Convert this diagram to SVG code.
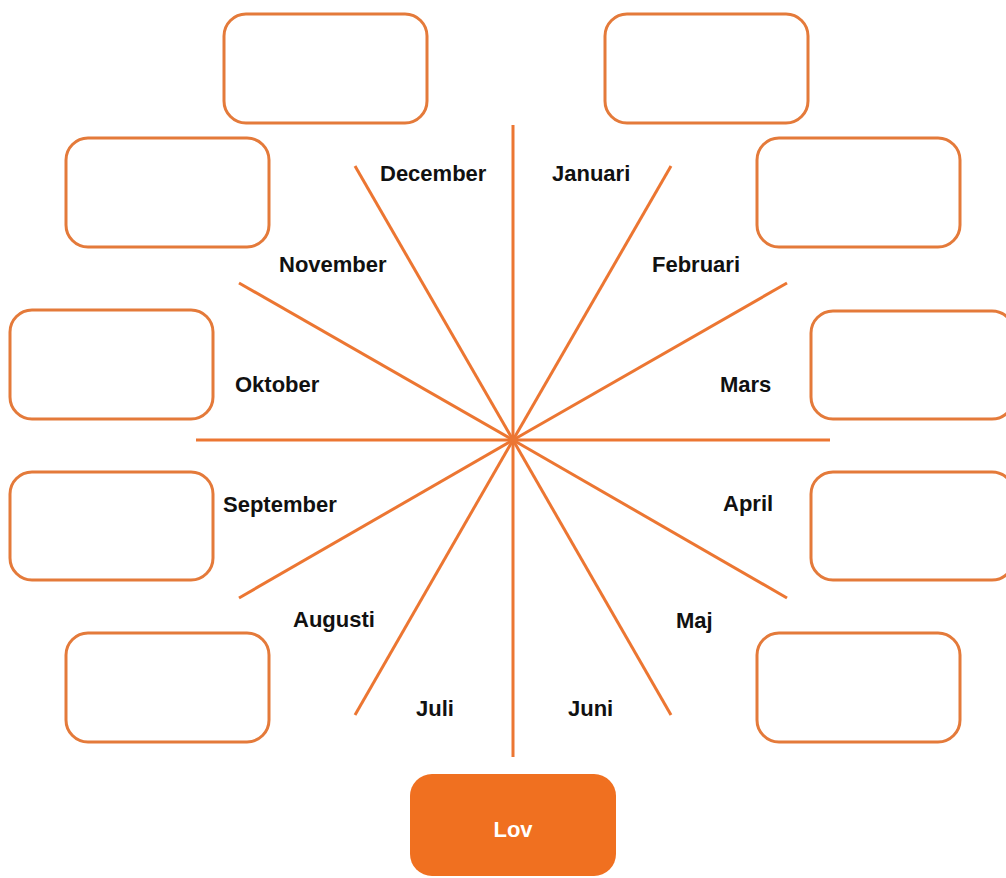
<svg xmlns="http://www.w3.org/2000/svg" width="1006" height="878" viewBox="0 0 1006 878">
<style>
.box{fill:#ffffff;stroke:#e47a3a;stroke-width:3}
.spoke{stroke:#ec7632;stroke-width:3;stroke-linecap:butt}
.lbl{font-family:"Liberation Sans",Arial,sans-serif;font-weight:bold;font-size:22px;fill:#111111}
.lov{font-family:"Liberation Sans",Arial,sans-serif;font-weight:bold;font-size:22px;fill:#ffffff}
</style>
<rect width="1006" height="878" fill="#ffffff"/>
<g id="connectors">
<line class="spoke" x1="513" y1="440" x2="513" y2="125"/>
<line class="spoke" x1="513" y1="440" x2="513" y2="757"/>
<line class="spoke" x1="513" y1="440" x2="196" y2="440"/>
<line class="spoke" x1="513" y1="440" x2="830" y2="440"/>
<line class="spoke" x1="513" y1="440" x2="671" y2="166"/>
<line class="spoke" x1="513" y1="440" x2="355" y2="166"/>
<line class="spoke" x1="513" y1="440" x2="787" y2="283"/>
<line class="spoke" x1="513" y1="440" x2="239" y2="283"/>
<line class="spoke" x1="513" y1="440" x2="787" y2="598"/>
<line class="spoke" x1="513" y1="440" x2="239" y2="598"/>
<line class="spoke" x1="513" y1="440" x2="671" y2="715"/>
<line class="spoke" x1="513" y1="440" x2="355" y2="715"/>
<circle cx="513" cy="440" r="4" fill="#ec7632"/>
</g>
<g id="box-top-left"><rect class="box" x="224" y="14" width="203" height="109" rx="22"/></g>
<g id="box-top-right"><rect class="box" x="605" y="14" width="203" height="109" rx="22"/></g>
<g id="box-row2-left"><rect class="box" x="66" y="138" width="203" height="109" rx="22"/></g>
<g id="box-row2-right"><rect class="box" x="757" y="138" width="203" height="109" rx="22"/></g>
<g id="box-row3-left"><rect class="box" x="10" y="310" width="203" height="109" rx="22"/></g>
<g id="box-row3-right"><rect class="box" x="811" y="311" width="203" height="108" rx="22"/></g>
<g id="box-row4-left"><rect class="box" x="10" y="472" width="203" height="108" rx="22"/></g>
<g id="box-row4-right"><rect class="box" x="811" y="472" width="203" height="108" rx="22"/></g>
<g id="box-row5-left"><rect class="box" x="66" y="633" width="203" height="109" rx="22"/></g>
<g id="box-row5-right"><rect class="box" x="757" y="633" width="203" height="109" rx="22"/></g>
<g id="lov"><rect x="410" y="774" width="206" height="102" rx="22" fill="#f07020"/><text class="lov" x="513" y="837" text-anchor="middle">Lov</text></g>
<g id="labels">
<text class="lbl" x="380" y="181">December</text>
<text class="lbl" x="552" y="181">Januari</text>
<text class="lbl" x="279" y="272">November</text>
<text class="lbl" x="652" y="272">Februari</text>
<text class="lbl" x="235" y="392">Oktober</text>
<text class="lbl" x="720" y="392">Mars</text>
<text class="lbl" x="223" y="512">September</text>
<text class="lbl" x="723" y="511">April</text>
<text class="lbl" x="293" y="627">Augusti</text>
<text class="lbl" x="676" y="628">Maj</text>
<text class="lbl" x="416" y="716">Juli</text>
<text class="lbl" x="568" y="716">Juni</text>
</g>
</svg>
